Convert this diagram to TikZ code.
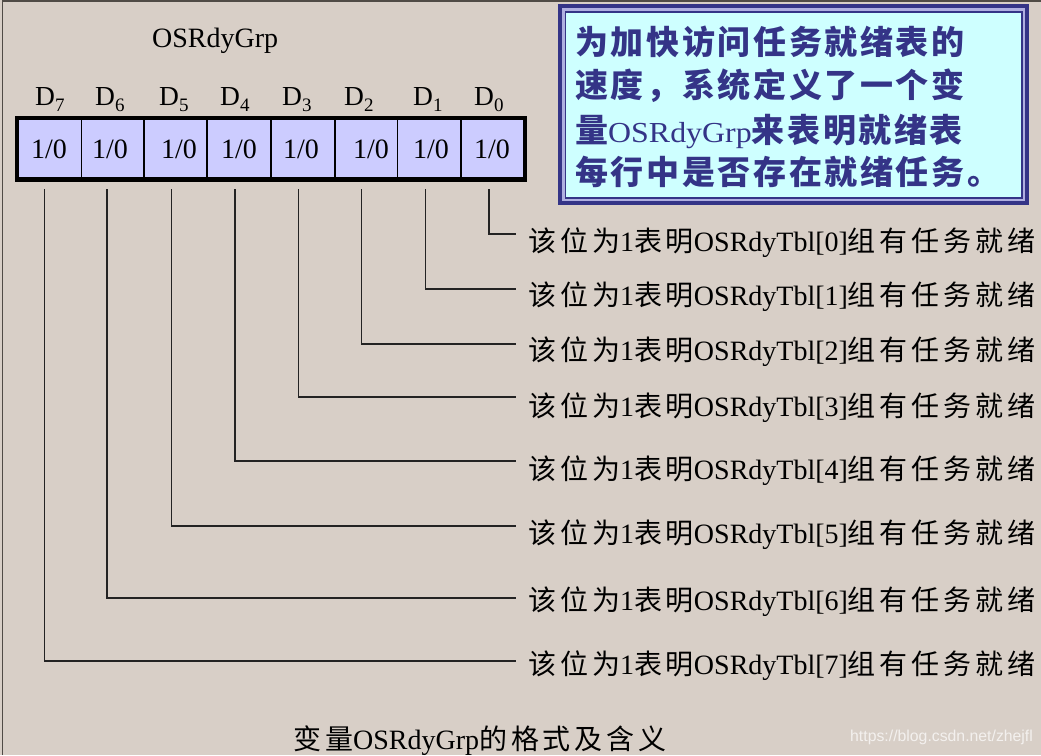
\documentclass[tikz,border=0pt]{standalone}
\usepackage{fontspec}
\usepackage{graphicx}
\setmainfont{Liberation Serif}
\newfontfamily\cjk[LetterSpace=14]{Noto Sans CJK SC}
\newfontfamily\cjknote[LetterSpace=8]{Noto Sans CJK SC}
\newfontfamily\wmfont{Liberation Sans}
\newcommand\zh[1]{{\cjk #1}}
\newcommand\dsub[1]{\raisebox{-6pt}{\fontsize{19}{20}\selectfont #1}}
\definecolor{bg}{RGB}{216,207,199}
\definecolor{cellfill}{RGB}{204,204,255}
\definecolor{wirecol}{RGB}{35,35,35}
\definecolor{noteblue}{RGB}{52,52,135}
\definecolor{noteband}{RGB}{175,175,225}
\definecolor{notefill}{RGB}{206,255,255}
\definecolor{framecol}{RGB}{80,75,70}
\begin{document}
\begin{tikzpicture}[x=1pt,y=-1pt,
  lbl/.style={anchor=base west, inner sep=0pt, font=\fontsize{28}{30}\selectfont},
  bitval/.style={anchor=base, inner sep=0pt, font=\fontsize{28}{30}\selectfont},
  dlbl/.style={anchor=base west, inner sep=0pt, font=\fontsize{27.5}{30}\selectfont},
  notetext/.style={anchor=base west, inner sep=0pt, text=noteblue, font=\fontsize{33}{36}\selectfont\cjknote\bfseries},
  wire/.style={line width=1.3pt, draw=wirecol},
  divider/.style={line width=1.5pt, draw=black}
]
\useasboundingbox (0,0) rectangle (1041,755);
\fill[bg] (0,0) rectangle (1041,755);
\draw[framecol, line width=1.5pt] (2.5,755) -- (2.5,1) -- (1041,1);

% title
\node[lbl] (title) at (152,47) {OSRdyGrp};

% bit labels
\node[dlbl] (d7) at (35,105) {D\dsub{7}};
\node[dlbl] (d6) at (95,105) {D\dsub{6}};
\node[dlbl] (d5) at (159,105) {D\dsub{5}};
\node[dlbl] (d4) at (220,105) {D\dsub{4}};
\node[dlbl] (d3) at (282,105) {D\dsub{3}};
\node[dlbl] (d2) at (344,105) {D\dsub{2}};
\node[dlbl] (d1) at (413,105) {D\dsub{1}};
\node[dlbl] (d0) at (474,105) {D\dsub{0}};

% register
\fill[cellfill] (15,116) rectangle (527,182);
\foreach \x in {81.5,144,207,271,335,397.5,461}
  \draw[divider] (\x,116) -- (\x,182);
\draw[line width=4.4pt] (17.2,118.2) rectangle (524.8,179.6);

\node[bitval] (b7) at (49,158.5) {1/0};
\node[bitval] (b6) at (110,158.5) {1/0};
\node[bitval] (b5) at (179,158.5) {1/0};
\node[bitval] (b4) at (239,158.5) {1/0};
\node[bitval] (b3) at (301,158.5) {1/0};
\node[bitval] (b2) at (371,158.5) {1/0};
\node[bitval] (b1) at (431,158.5) {1/0};
\node[bitval] (b0) at (492,158.5) {1/0};

% connector coordinates
\coordinate (s7) at (44.5,189);
\coordinate (s6) at (107,189);
\coordinate (s5) at (171.5,189);
\coordinate (s4) at (235,189);
\coordinate (s3) at (298.5,189);
\coordinate (s2) at (361.5,189);
\coordinate (s1) at (425.5,189);
\coordinate (s0) at (489,189);
\coordinate (e0) at (516,234);
\coordinate (e1) at (516,289);
\coordinate (e2) at (516,344);
\coordinate (e3) at (516,397);
\coordinate (e4) at (516,461);
\coordinate (e5) at (516,526);
\coordinate (e6) at (516,598);
\coordinate (e7) at (516,661);

\foreach \i in {0,...,7}
  \draw[wire] (s\i) |- (e\i);

% labels
\node[lbl] (t0) at (528,251) {\zh{该位为}1\zh{表明}OSRdyTbl[0]\zh{组有任务就绪}};
\node[lbl] (t1) at (528,305) {\zh{该位为}1\zh{表明}OSRdyTbl[1]\zh{组有任务就绪}};
\node[lbl] (t2) at (528,360) {\zh{该位为}1\zh{表明}OSRdyTbl[2]\zh{组有任务就绪}};
\node[lbl] (t3) at (528,416) {\zh{该位为}1\zh{表明}OSRdyTbl[3]\zh{组有任务就绪}};
\node[lbl] (t4) at (528,479) {\zh{该位为}1\zh{表明}OSRdyTbl[4]\zh{组有任务就绪}};
\node[lbl] (t5) at (528,543) {\zh{该位为}1\zh{表明}OSRdyTbl[5]\zh{组有任务就绪}};
\node[lbl] (t6) at (528,610) {\zh{该位为}1\zh{表明}OSRdyTbl[6]\zh{组有任务就绪}};
\node[lbl] (t7) at (528,674) {\zh{该位为}1\zh{表明}OSRdyTbl[7]\zh{组有任务就绪}};

% note box
\fill[noteblue] (558,4) rectangle (1029,205);
\fill[noteband] (562,8) rectangle (1025,201);
\fill[noteblue] (564.5,10.5) rectangle (1022.5,198.5);
\fill[notefill] (566,12.5) rectangle (1021,196.5);
\node[notetext] (n1) at (575,54) {为加快访问任务就绪表的};
\node[notetext] (n2) at (575,97) {速度，系统定义了一个变};
\node[notetext] (n3) at (575,142) {量\scalebox{1.1}[1]{\fontsize{29}{30}\selectfont\rmfamily\mdseries OSRdyGrp}来表明就绪表};
\node[notetext] (n4) at (575,184) {每行中是否存在就绪任务。};

% caption
\node[lbl] (cap) at (293,749) {\zh{变量}OSRdyGrp\zh{的格式及含义}};

% watermark
\node[anchor=base west, inner sep=0pt, text=white, opacity=0.7, font=\wmfont\fontsize{15.8}{17}\selectfont] (wm) at (850,741) {https://blog.csdn.net/zhejfl};
\end{tikzpicture}
\end{document}
